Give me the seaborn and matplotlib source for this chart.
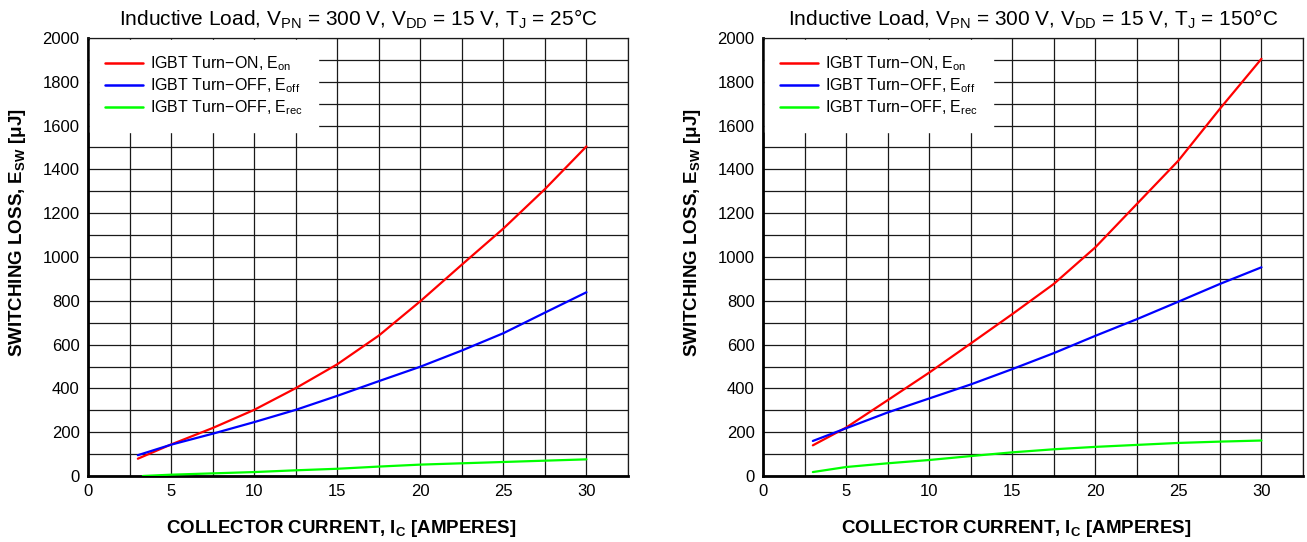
import pandas as pd
import matplotlib
matplotlib.use('Agg')
import matplotlib.pyplot as plt
import seaborn as sns
from matplotlib.ticker import MultipleLocator

# collector current points [A]
ic = [3, 5, 7.5, 10, 12.5, 15, 17.5, 20, 22.5, 25, 27.5, 30]
ic_rec_25 = [3.3, 5, 7.5, 10, 12.5, 15, 17.5, 20, 22.5, 25, 27.5, 30]

# Tj = 25 C, switching loss [uJ]
eon_25 = [79, 144, 219, 302, 401, 510, 641, 798, 965, 1130, 1310, 1505]
eoff_25 = [95, 143, 193, 246, 302, 366, 433, 499, 573, 652, 746, 839]
erec_25 = [0, 6, 12, 18, 26, 33, 43, 52, 58, 64, 70, 76]

# Tj = 150 C
eon_150 = [140, 221, 346, 472, 605, 739, 877, 1044, 1242, 1440, 1677, 1905]
eoff_150 = [160, 218, 290, 354, 418, 488, 561, 640, 716, 796, 877, 953]
erec_150 = [18, 41, 58, 73, 91, 108, 122, 133, 142, 151, 157, 162]

titles = ['Inductive Load, V$_{PN}$ = 300 V, V$_{DD}$ = 15 V, T$_{J}$ = 25\u00b0C',
          'Inductive Load, V$_{PN}$ = 300 V, V$_{DD}$ = 15 V, T$_{J}$ = 150\u00b0C']
labels = ['IGBT Turn\u2212ON, E$_{on}$', 'IGBT Turn\u2212OFF, E$_{off}$',
          'IGBT Turn\u2212OFF, E$_{rec}$']
colors = ['#ff0000', '#0000ff', '#00ff00']


def make_df(x_on, y_on, x_off, y_off, x_rec, y_rec):
    parts = []
    for x, y, lab in [(x_on, y_on, labels[0]), (x_off, y_off, labels[1]),
                      (x_rec, y_rec, labels[2])]:
        parts.append(pd.DataFrame({'ic': x, 'esw': y, 'curve': lab}))
    return pd.concat(parts, ignore_index=True)


df25 = make_df(ic, eon_25, ic, eoff_25, ic_rec_25, erec_25)
df150 = make_df(ic, eon_150, ic, eoff_150, ic, erec_150)

sns.set_style('white')
plt.rcParams['font.family'] = ['Liberation Sans', 'DejaVu Sans']
plt.rcParams['mathtext.default'] = 'regular'
plt.rcParams['text.color'] = 'black'
plt.rcParams['axes.labelcolor'] = 'black'
plt.rcParams['xtick.color'] = 'black'
plt.rcParams['ytick.color'] = 'black'

fig = plt.figure(figsize=(13.07, 5.42), dpi=100)
ax1 = fig.add_axes([88 / 1307, 66 / 542, 540 / 1307, 438 / 542])
ax2 = fig.add_axes([763 / 1307, 66 / 542, 540 / 1307, 438 / 542])

for ax, df, title in [(ax1, df25, titles[0]), (ax2, df150, titles[1])]:
    sns.lineplot(data=df, x='ic', y='esw', hue='curve', hue_order=labels,
                 palette=colors, linewidth=1.6, ax=ax, zorder=3)
    ax.set_xlim(0, 32.5)
    ax.set_ylim(0, 2000)
    ax.xaxis.set_major_locator(MultipleLocator(5))
    ax.xaxis.set_minor_locator(MultipleLocator(2.5))
    ax.yaxis.set_major_locator(MultipleLocator(200))
    ax.yaxis.set_minor_locator(MultipleLocator(100))
    ax.grid(which='both', color='#1a1a1a', linewidth=0.9)
    ax.set_axisbelow(True)
    ax.tick_params(which='both', length=0, labelsize=12, pad=6,
                   labelcolor='black')
    for side in ['top', 'right']:
        ax.spines[side].set_linewidth(0.9)
        ax.spines[side].set_color('#1a1a1a')
    for side in ['left', 'bottom']:
        ax.spines[side].set_linewidth(2.0)
        ax.spines[side].set_color('black')
    ax.set_title(title, fontsize=15, pad=9, color='black')
    ax.set_xlabel('COLLECTOR CURRENT, I$_{C}$ [AMPERES]', fontsize=13.5,
                  fontweight='bold', color='black')
    ax.set_ylabel('SWITCHING LOSS, E$_{SW}$ [\u03bcJ]', fontsize=13.5,
                  fontweight='bold', color='black')
    ax.xaxis.set_label_coords(0.47, -0.095)
    ax.yaxis.set_label_coords(-0.111, 0.555)
    leg = ax.legend(loc='upper left', fontsize=11.5, frameon=True,
                    fancybox=False, framealpha=1, edgecolor='white',
                    facecolor='white', borderaxespad=0.15, borderpad=0.9,
                    handlelength=2.4, handletextpad=0.45, labelspacing=0.2)
    leg.set_title(None)
    for text in leg.get_texts():
        text.set_color('black')
    for line in leg.get_lines():
        line.set_linewidth(1.8)

fig.savefig('out.png', dpi=100)
